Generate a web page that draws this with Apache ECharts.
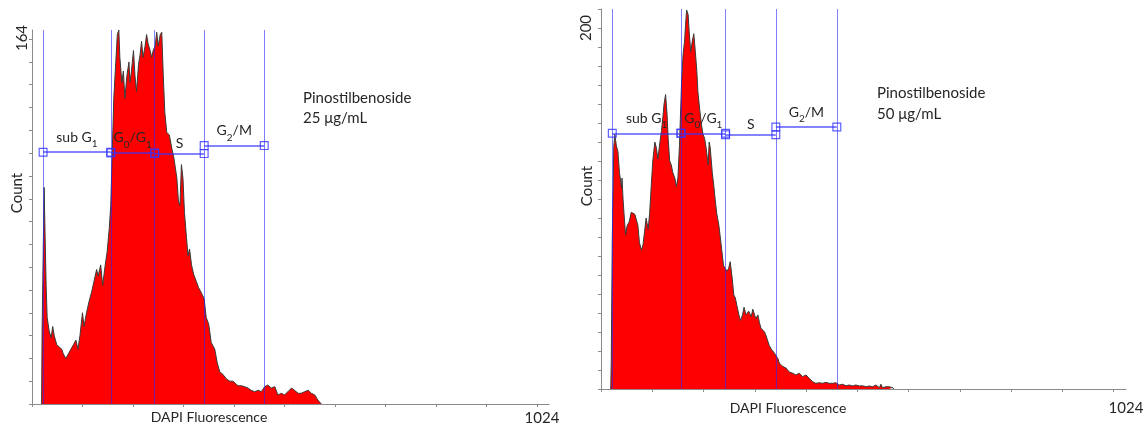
<!DOCTYPE html>
<html>
<head>
<meta charset="utf-8">
<title>Pinostilbenoside DAPI histograms</title>
<script src="https://cdn.jsdelivr.net/npm/echarts@6/dist/echarts.min.js"></script>
<style>
  html, body { margin: 0; padding: 0; background: #fff; }
  #chart { width: 1147px; height: 428px; }
</style>
</head>
<body>
<div id="chart"></div>
<script>
// DAPI channel -> cell count
var channels25 = [19, 20, 24, 26, 28, 30, 34, 38, 41, 44, 49, 54, 59, 62, 67, 72, 77, 82, 87, 91, 95, 100, 103, 108, 113, 118, 123, 128, 131, 136, 140, 145, 149, 153, 156, 159, 162, 166, 169, 172, 174, 178, 181, 184, 188, 192, 194, 197, 201, 204, 207, 211, 214, 217, 220, 224, 227, 230, 234, 237, 240, 244, 247, 250, 254, 257, 260, 263, 267, 272, 277, 281, 287, 290, 293, 296, 299, 302, 306, 309, 312, 316, 320, 325, 330, 335, 341, 345, 350, 355, 362, 367, 372, 378, 385, 392, 398, 403, 408, 415, 421, 428, 434, 441, 448, 454, 461, 467, 474, 481, 487, 494, 500, 507, 514, 520, 527, 533, 540, 547, 553, 560, 566, 573];
var counts25 = [0, 32, 95, 73, 52, 38, 32, 29, 34, 30, 26, 25, 24, 22, 20, 22, 24, 26, 28, 24, 30, 40, 34, 40, 45, 49, 54, 59, 56, 61, 52, 61, 67, 77, 87, 111, 134, 150, 162, 164, 152, 141, 146, 134, 144, 150, 141, 146, 155, 144, 137, 149, 153, 159, 152, 157, 162, 158, 155, 152, 155, 157, 163, 157, 162, 163, 144, 128, 119, 118, 112, 108, 99, 89, 87, 105, 99, 84, 73, 65, 68, 61, 57, 54, 51, 49, 46, 38, 35, 27, 24, 18, 14, 13, 11, 10, 10, 9, 8, 8, 7.6, 7, 6, 5.4, 6, 5.4, 7.6, 8.3, 7, 7.6, 4, 4.7, 4, 5.4, 7, 6, 4.7, 4.7, 5.4, 6, 4.7, 4, 1.8, 0];

var channels50 = [19, 20, 22, 25, 27, 30, 33, 36, 40, 41, 43, 46, 48, 51, 55, 59, 62, 66, 69, 72, 75, 79, 82, 85, 88, 92, 95, 98, 101, 105, 108, 111, 114, 118, 121, 123, 126, 129, 131, 134, 137, 140, 144, 147, 150, 153, 157, 160, 163, 165, 167, 170, 172, 175, 178, 181, 184, 187, 189, 193, 196, 199, 202, 205, 209, 211, 213, 217, 220, 223, 226, 230, 233, 236, 239, 242, 246, 249, 252, 256, 259, 262, 265, 269, 272, 276, 279, 283, 288, 293, 296, 299, 302, 306, 309, 312, 315, 319, 322, 325, 328, 332, 335, 338, 341, 345, 348, 354, 361, 367, 374, 380, 387, 393, 400, 406, 413, 419, 426, 432, 439, 445, 452, 458, 465, 471, 478, 484, 491, 497, 504, 510, 517, 523, 530, 536, 543, 546, 549, 556, 562, 569, 571];
var counts50 = [0, 14, 79, 128, 134, 128, 125, 114, 106, 111, 100, 88, 81, 86, 88, 93, 94, 92, 92.5, 86, 77, 73, 76, 83, 90, 84, 93, 107, 120, 130, 127, 121, 128, 136, 144, 150, 155, 144, 132, 120, 118, 114, 111, 106.5, 111, 128, 160, 176, 183, 192, 199.5, 197, 188, 177.5, 183, 187, 177.5, 167, 156.5, 146, 139, 134, 132, 127, 118, 130, 127, 114, 107, 99, 92, 86, 79, 72, 65, 63.5, 62, 63.5, 67, 58, 49.5, 48, 44, 39, 36, 39, 43, 39, 41, 38, 42, 43, 37, 39, 35, 32, 31, 30, 28, 27, 23, 21, 20, 19, 20, 16, 13.5, 12, 11, 9, 8.3, 7.4, 8.3, 6.5, 7.4, 5.6, 3.8, 3, 3.3, 3, 3.5, 3, 3, 3.3, 2.1, 2.5, 1.7, 2.1, 1.6, 2.1, 1.6, 1.7, 1.2, 1.6, 1.2, 2.1, 0.7, 2.5, 0.7, 1.2, 1.2, 0.7, 0];

// gates: edges in channels, marker height (count) per panel
var gateNames = ['sub G{s|1}', 'G{s|0}/G{s|1}', 'S', 'G{s|2}/M'];
var gateEdges = [22, 156, 243, 341, 460];
var gateLevels25 = [110.4, 110.1, 109.8, 113.3];
var gateLevels50 = [134.6, 134.6, 133.8, 137.9];

var xTicks = [0, 100, 200, 300, 400, 500, 600, 700, 800, 900, 1000];
var xLabels = [1024];
var yTicks25 = [0, 10, 20, 30, 40, 50, 60, 70, 80, 90, 100, 110, 120, 130, 140, 150, 160];
var yTicks50 = [0, 10, 20, 30, 40, 50, 60, 70, 80, 90, 100, 110, 120, 130, 140, 150, 160, 170, 180, 190, 200];
var yMax = [164, 200];
var doses = ['25 μg/mL', '50 μg/mL'];

var FONT = 'Lato, "Open Sans", sans-serif';
var TXT = '#262626';
var AXIS = '#8a8a8a';
var GATE = 'rgba(40,40,255,0.6)';
var BAR = 'rgba(50,50,255,0.8)';
var SQUARE = 'path://M0,0H10V10H0ZM1.3,1.3V8.7H8.7V1.3Z';

function pairs(xs, ys) {
  var out = [];
  for (var i = 0; i < xs.length; i++) out.push([xs[i], ys[i]]);
  return out;
}

function gateBars(levels) {
  var out = [];
  for (var i = 0; i < gateNames.length; i++) {
    out.push([
      { coord: [gateEdges[i], levels[i]], name: gateNames[i] },
      { coord: [gateEdges[i + 1], levels[i]] }
    ]);
  }
  return out;
}

var chart = echarts.init(document.getElementById('chart'));

var panels = [
  { counts: counts25, channels: channels25, levels: gateLevels25, yTicks: yTicks25,
    grid: { left: 32, top: 30, width: 517, height: 374 }, labelMargin: 7, labelPad: [0, 14, 0, 0] },
  { counts: counts50, channels: channels50, levels: gateLevels50, yTicks: yTicks50,
    grid: { left: 601, top: 9, width: 525, height: 380 }, labelMargin: 12, labelPad: 0 }
];

var grid = [], xAxis = [], yAxis = [], series = [];
panels.forEach(function (p, i) {
  grid.push(p.grid);
  xAxis.push({
    type: 'value', gridIndex: i, min: 0, max: 1024,
    axisLine: { lineStyle: { color: AXIS, width: 1 } },
    axisTick: { show: true, customValues: xTicks, length: 3, lineStyle: { color: AXIS } },
    axisLabel: { customValues: xLabels, color: TXT, fontFamily: FONT, fontSize: 15,
      margin: p.labelMargin, padding: p.labelPad,
      formatter: function (v) { return String(v); } },
    splitLine: { show: false }
  });
  yAxis.push({
    type: 'value', gridIndex: i, min: 0, max: yMax[i],
    axisLine: { show: true, lineStyle: { color: AXIS, width: 1 } },
    axisTick: { show: true, customValues: p.yTicks, length: 3, lineStyle: { color: AXIS } },
    axisLabel: { show: false },
    splitLine: { show: false }
  });
  series.push({
    type: 'line', xAxisIndex: i, yAxisIndex: i,
    data: pairs(p.channels, p.counts),
    symbol: 'none',
    lineStyle: { color: '#3a3a3a', width: 1 },
    areaStyle: { color: '#ff0000', opacity: 1 },
    z: 2
  });
  series.push({
    type: 'line', xAxisIndex: i, yAxisIndex: i, data: [], z: 3,
    markLine: {
      silent: true, symbol: 'none', animation: false,
      label: { show: false },
      lineStyle: { color: GATE, type: 'solid', width: 1 },
      data: gateEdges.map(function (v) { return { xAxis: v }; })
    }
  });
  series.push({
    type: 'line', xAxisIndex: i, yAxisIndex: i, data: [], z: 4,
    markLine: {
      silent: true, symbol: [SQUARE, SQUARE], symbolSize: 9, animation: false,
      lineStyle: { color: BAR, type: 'solid', width: 1.5 },
      label: {
        show: true, position: 'middle', distance: 3,
        formatter: function (d) { return d.name; },
        color: TXT, fontFamily: FONT, fontSize: 14,
        rich: { s: { fontSize: 10, fontFamily: FONT, color: TXT, verticalAlign: 'bottom', lineHeight: 24 } }
      },
      data: gateBars(p.levels)
    }
  });
});

function text(x, y, str, opts) {
  var el = {
    type: 'text', x: x, y: y,
    style: { text: str, fill: TXT, font: ((opts && opts.size) || 15) + 'px ' + FONT,
      align: 'center', verticalAlign: 'middle' }
  };
  if (opts && opts.rotate) el.rotation = Math.PI / 2;
  if (opts && opts.left) el.style.align = 'left';
  return el;
}

chart.setOption({
  animation: false,
  backgroundColor: '#fff',
  grid: grid,
  xAxis: xAxis,
  yAxis: yAxis,
  series: series,
  graphic: [
    text(17, 193, 'Count', { rotate: true }),
    text(22, 38, '164', { rotate: true }),
    text(209, 417, 'DAPI Fluorescence', { size: 14 }),
    text(303, 98, 'Pinostilbenoside', { left: true }),
    text(303, 118, doses[0], { left: true }),
    text(587, 186, 'Count', { rotate: true }),
    text(586, 28, '200', { rotate: true }),
    text(788, 408, 'DAPI Fluorescence', { size: 14 }),
    text(877, 93, 'Pinostilbenoside', { left: true }),
    text(877, 114, doses[1], { left: true })
  ]
});
</script>
</body>
</html>
